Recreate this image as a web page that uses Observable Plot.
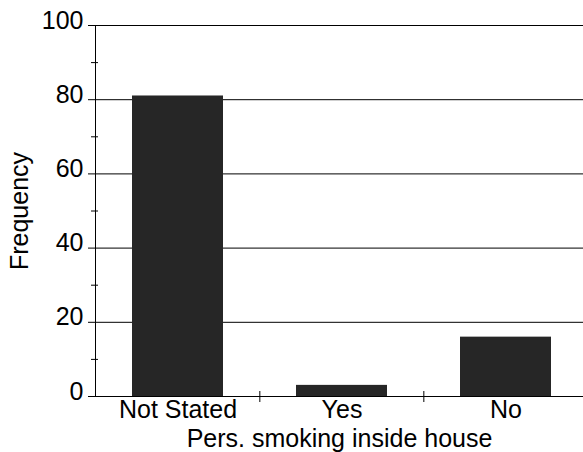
<!DOCTYPE html>
<html><head>
<meta charset="utf-8">
<script src="https://cdn.jsdelivr.net/npm/d3@7"></script>
<script src="https://cdn.jsdelivr.net/npm/@observablehq/plot@0.6"></script>
<style>
body{margin:0;background:#fff}
#chart svg{font-family:"Liberation Sans",Arial,sans-serif}
</style>
</head><body><div id="chart"></div>
<script>
const categories = ["Not Stated", "Yes", "No"];
const frequencies = [81, 3, 16];
const majorTicks = [0, 20, 40, 60, 80, 100];
const minorTicks = [10, 30, 50, 70, 90];
const gridTicks = [20, 40, 60, 80, 100];

const data = categories.map((c, i) => ({category: c, frequency: frequencies[i]}));
const xRange = [95, 588];
const step = (xRange[1] - xRange[0]) / categories.length;
const noText = () => "";

const chart = Plot.plot({
  width: 583,
  height: 452,
  marginLeft: 95,
  marginRight: 0,
  marginTop: 25,
  marginBottom: 56,
  style: {fontFamily: '"Liberation Sans", Arial, sans-serif', fontSize: "25px", color: "#000", background: "#fff", overflow: "visible"},
  x: {domain: categories, range: xRange, paddingInner: 0.446, paddingOuter: 0.223},
  y: {domain: [0, 100]},
  marks: [
    Plot.ruleY(gridTicks, {stroke: "#000", strokeWidth: 1, strokeOpacity: 1}),
    Plot.barY(data, {x: "category", y: "frequency", fill: "#262626"}),
    Plot.ruleY([0], {stroke: "#000", strokeWidth: 1}),
    Plot.frame({anchor: "left", stroke: "#000"}),
    Plot.axisY(majorTicks, {tickSize: 7, tickFormat: noText, label: null, stroke: "#000", strokeOpacity: 1}),
    Plot.axisY(minorTicks, {tickSize: 7, dx: 3, tickFormat: noText, label: null, stroke: "#000", strokeOpacity: 1}),
    Plot.axisY(majorTicks, {tickSize: 0, tickPadding: 12, dy: -5, fontSize: 25, fill: "#000",
      label: "Frequency", labelAnchor: "center", labelArrow: "none", labelOffset: 85}),
    Plot.axisX({tickSize: 0, tickPadding: 4, fontSize: 25, fill: "#000",
      label: "Pers. smoking inside house", labelAnchor: "center", labelArrow: "none", labelOffset: 50}),
    Plot.axisX(categories.slice(1), {tickSize: 11, dy: -5, dx: -step / 2, tickFormat: noText, label: null, stroke: "#000", strokeOpacity: 1})
  ]
});
document.getElementById("chart").append(chart);
</script>
</body></html>
